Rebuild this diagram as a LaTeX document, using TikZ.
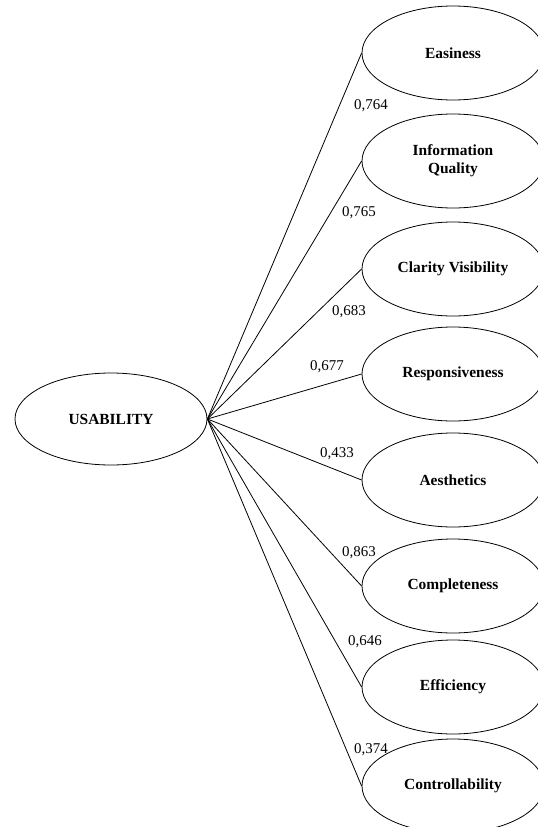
\documentclass[tikz,border=0pt]{standalone}
\usepackage{fontspec}
\setmainfont{Liberation Serif}
\usetikzlibrary{shapes.geometric}
\begin{document}
\begin{tikzpicture}[x=1bp,y=-1bp,
  factor/.style={ellipse,draw,line width=0.8bp,minimum width=182bp,minimum height=94bp,inner sep=0pt,
    font=\fontsize{15.5}{18}\selectfont\bfseries,align=center},
  latent/.style={ellipse,draw,line width=0.8bp,minimum width=192bp,minimum height=92bp,inner sep=0pt,
    font=\fontsize{15.5}{18}\selectfont\bfseries},
  load/.style={font=\fontsize{15}{17}\selectfont,inner sep=0pt},
  link/.style={draw,line width=0.8bp}]
\useasboundingbox (0,0) rectangle (538,827);
\clip (0,0) rectangle (538,827);
\fill[white] (0,0) rectangle (538,827);
\node[latent] (u) at (111,419) {USABILITY};
\node[factor] (e1) at (453,53) {Easiness};
\node[factor] (e2) at (453,161) {Information\\Quality};
\node[factor] (e3) at (453,269) {Clarity Visibility};
\node[factor] (e4) at (453,374) {Responsiveness};
\node[factor] (e5) at (453,480) {Aesthetics};
\node[factor] (e6) at (453,586) {Completeness};
\node[factor] (e7) at (453,687) {Efficiency};
\node[factor] (e8) at (453,786) {Controllability};
\foreach \i in {1,...,8} {\draw[link] (u.east) -- (e\i.west);}
\node[load] (l1) at (371,106) {0,764};
\node[load] (l2) at (359,213) {0,765};
\node[load] (l3) at (349,312) {0,683};
\node[load] (l4) at (327,367) {0,677};
\node[load] (l5) at (337,454) {0,433};
\node[load] (l6) at (359,553) {0,863};
\node[load] (l7) at (365,642) {0,646};
\node[load] (l8) at (371,750) {0,374};
\end{tikzpicture}
\end{document}
